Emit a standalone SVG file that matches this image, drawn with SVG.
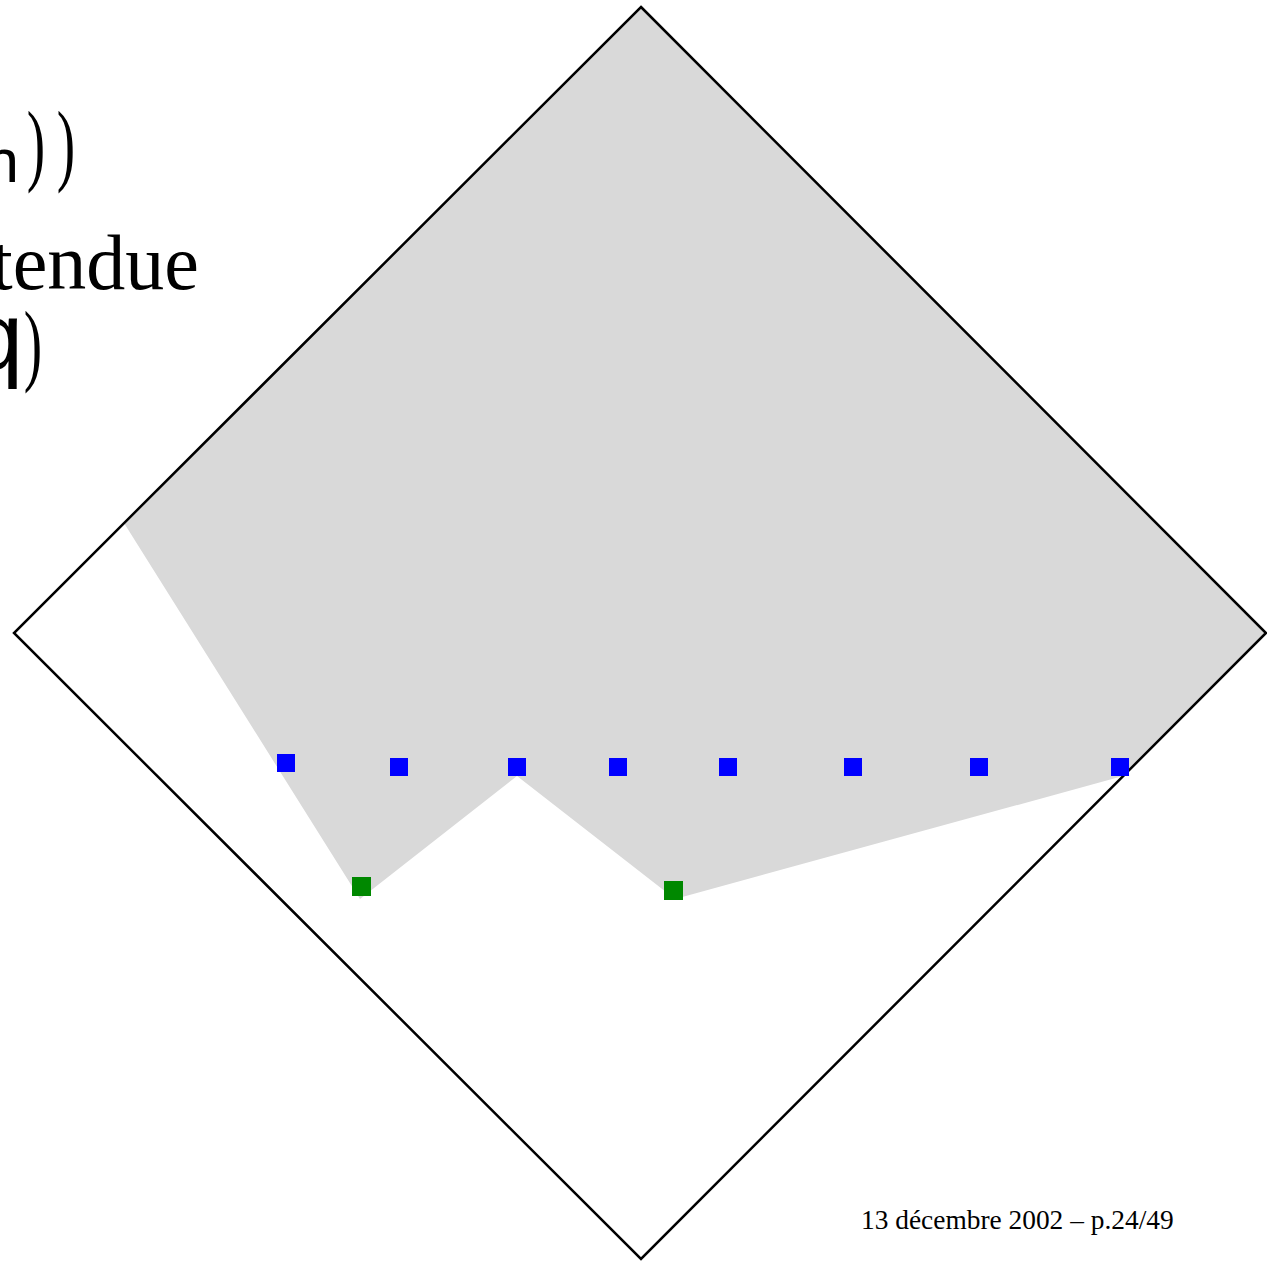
<svg xmlns="http://www.w3.org/2000/svg" width="1267" height="1266" viewBox="0 0 1267 1266">
<style>
.serif{font-family:"Liberation Serif","Times New Roman",serif;fill:#000}
.sans{font-family:"Liberation Sans",Arial,sans-serif;fill:#000}
.b{fill:#0000ff}
.g{fill:#008800}
</style>
<rect width="1267" height="1266" fill="#ffffff"/>
<g id="region">
<polygon points="124,523 641,7 1266,633 1123,776 675,899 517,776 360,899" fill="#d9d9d9"/>
</g>
<g id="diamond">
<polygon points="641,7 1266,633 641,1259 14,633" fill="none" stroke="#000" stroke-width="2.5"/>
</g>
<g id="points">
<rect class="b" x="277" y="754" width="18" height="18"/>
<rect class="b" x="390" y="758" width="18" height="18"/>
<rect class="b" x="508" y="758" width="18" height="18"/>
<rect class="b" x="609" y="758" width="18" height="18"/>
<rect class="b" x="719" y="758" width="18" height="18"/>
<rect class="b" x="844" y="758" width="18" height="18"/>
<rect class="b" x="970" y="758" width="18" height="18"/>
<rect class="b" x="1111" y="758" width="18" height="18"/>
<rect class="g" x="352" y="877" width="19" height="19"/>
<rect class="g" x="664" y="881" width="19" height="19"/>
</g>
<g id="text">
<text class="sans" x="19" y="182" font-size="62" text-anchor="end">n</text>
<text class="serif" font-size="92" text-anchor="middle" transform="translate(36,174) scale(0.6,1)">)</text>
<text class="serif" font-size="92" text-anchor="middle" transform="translate(66,174) scale(0.6,1)">)</text>
<text class="serif" x="199" y="289" font-size="78" text-anchor="end">tendue</text>
<text class="sans" x="23" y="369" font-size="95" text-anchor="end">q</text>
<text class="serif" font-size="92" text-anchor="middle" transform="translate(33,374) scale(0.6,1)">)</text>
<text class="serif" x="861" y="1229" font-size="27.4">13 décembre 2002 – p.24/49</text>
</g>
</svg>
